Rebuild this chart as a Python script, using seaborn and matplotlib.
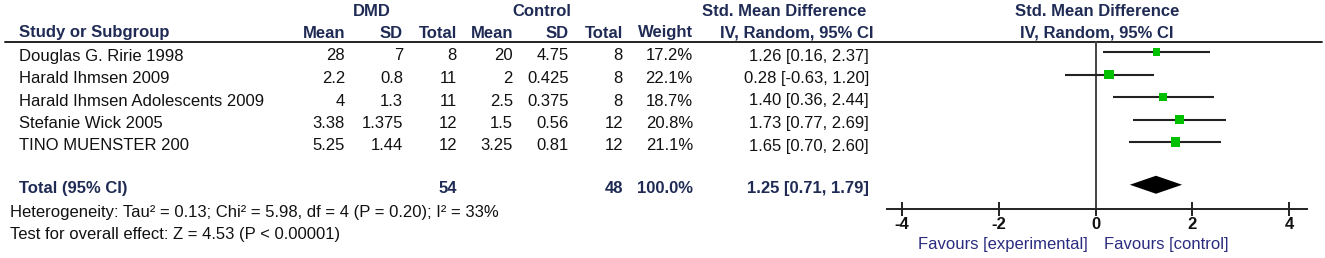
import numpy as np
import pandas as pd
import matplotlib
matplotlib.use('Agg')
import matplotlib.pyplot as plt
import seaborn as sns

# 데이터 (forest plot)
studies = ['Douglas G. Ririe 1998', 'Harald Ihmsen 2009',
           'Harald Ihmsen Adolescents 2009', 'Stefanie Wick 2005', 'TINO MUENSTER 200']
dmd_mean = ['28', '2.2', '4', '3.38', '5.25']
dmd_sd = ['7', '0.8', '1.3', '1.375', '1.44']
dmd_total = [8, 11, 11, 12, 12]
ctl_mean = ['20', '2', '2.5', '1.5', '3.25']
ctl_sd = ['4.75', '0.425', '0.375', '0.56', '0.81']
ctl_total = [8, 8, 8, 12, 12]
weight = [17.2, 22.1, 18.7, 20.8, 21.1]
smd = [1.26, 0.28, 1.40, 1.73, 1.65]
ci_low = [0.16, -0.63, 0.36, 0.77, 0.70]
ci_high = [2.37, 1.20, 2.44, 2.69, 2.60]

total_smd, total_low, total_high = 1.25, 0.71, 1.79
total_dmd, total_ctl, total_weight = 54, 48, 100.0
heterogeneity = 'Heterogeneity: Tau² = 0.13; Chi² = 5.98, df = 4 (P = 0.20); I² = 33%'
overall = 'Test for overall effect: Z = 4.53 (P < 0.00001)'
ticks = [-4, -2, 0, 2, 4]

sns.set_style('white')
plt.rcParams['font.family'] = ['Liberation Sans', 'DejaVu Sans']

W, H = 1325, 258
fig = plt.figure(figsize=(W / 100, H / 100), dpi=100)

# 표 영역 (픽셀 좌표)
tab = fig.add_axes([0, 0, 1, 1])
tab.set_xlim(0, W)
tab.set_ylim(H, 0)
tab.axis('off')

hdr = '#1f2b55'
fs = 12
row0, step, toff = 52, 22.5, 4
total_idx = 5.9

def ty(i):
    return row0 + i * step + toff

# 헤더
tab.text(372, 12, 'DMD', ha='center', va='center', fontsize=fs, fontweight='bold', color=hdr)
tab.text(542, 12, 'Control', ha='center', va='center', fontsize=fs, fontweight='bold', color=hdr)
tab.text(784, 12, 'Std. Mean Difference', ha='center', va='center', fontsize=fs, fontweight='bold', color=hdr)
tab.text(1097, 12, 'Std. Mean Difference', ha='center', va='center', fontsize=fs, fontweight='bold', color=hdr)
tab.text(1097, 33, 'IV, Random, 95% CI', ha='center', va='center', fontsize=fs, fontweight='bold', color=hdr)
tab.text(19, 33, 'Study or Subgroup', ha='left', va='center', fontsize=fs, fontweight='bold', color=hdr)

cols = [345, 403, 457, 513, 569, 623, 693, 869]
heads = ['Mean', 'SD', 'Total', 'Mean', 'SD', 'Total', 'Weight', 'IV, Random, 95% CI']
for x, lab in zip(cols, heads):
    tab.text(x + (4 if lab.startswith('IV') else 0), 33, lab, ha='right', va='center',
             fontsize=fs, fontweight='bold', color=hdr)
tab.plot([5, 1322], [42, 42], color='#222222', lw=1.4)

# 각 연구 행
for i, name in enumerate(studies):
    y = ty(i)
    tab.text(19, y, name, ha='left', va='center', fontsize=fs, color='#111111')
    vals = [dmd_mean[i], dmd_sd[i], str(dmd_total[i]), ctl_mean[i], ctl_sd[i],
            str(ctl_total[i]), f'{weight[i]:.1f}%',
            f'{smd[i]:.2f} [{ci_low[i]:.2f}, {ci_high[i]:.2f}]']
    for x, v in zip(cols, vals):
        tab.text(x, y, v, ha='right', va='center', fontsize=fs, color='#111111')

# 합계 행
yt = ty(total_idx)
tab.text(19, yt, 'Total (95% CI)', ha='left', va='center', fontsize=fs, fontweight='bold', color=hdr)
tot_vals = {cols[2]: str(total_dmd), cols[5]: str(total_ctl), cols[6]: f'{total_weight:.1f}%',
            cols[7]: f'{total_smd:.2f} [{total_low:.2f}, {total_high:.2f}]'}
for x, v in tot_vals.items():
    tab.text(x, yt, v, ha='right', va='center', fontsize=fs, fontweight='bold', color=hdr)
tab.text(10, 212, heterogeneity, ha='left', va='center', fontsize=fs, color='#111111')
tab.text(10, 234, overall, ha='left', va='center', fontsize=fs, color='#111111')

# forest plot 영역
x0px, x4px = 902, 1289
ppu = (x4px - x0px) / 8
left_px, right_px, top_px, bot_px = 887, 1307, 41, 209
ax = fig.add_axes([left_px / W, 1 - bot_px / H, (right_px - left_px) / W, (bot_px - top_px) / H])
ax.set_xlim(-4 - (x0px - left_px) / ppu, 4 + (right_px - x4px) / ppu)
ax.set_ylim((bot_px - row0) / step, (top_px - row0) / step)
ax.patch.set_alpha(0)

df = pd.DataFrame({'smd': smd, 'row': range(len(studies)), 'weight': weight})
ax.hlines(df['row'], ci_low, ci_high, color='#222222', lw=1.5, zorder=2)
sns.scatterplot(data=df, x='smd', y='row', size='weight', sizes=(32, 50), marker='s',
                color='#00c000', edgecolor='none', legend=False, ax=ax, zorder=3)
ax.axvline(0, color='#444444', lw=1.4, zorder=1)
dh = 0.4
ax.fill([total_low, total_smd, total_high, total_smd],
        [total_idx, total_idx - dh, total_idx, total_idx + dh], color='black', lw=0, zorder=3)

for s in ['top', 'right', 'left']:
    ax.spines[s].set_visible(False)
ax.spines['bottom'].set_color('#222222')
ax.spines['bottom'].set_linewidth(1.4)
ax.set_yticks([])
ax.set_xticks(ticks)
ax.set_xticklabels([str(t) for t in ticks], fontsize=fs, fontweight='bold', color='#111111')
ax.tick_params(axis='x', direction='inout', length=10, width=1.4, color='#222222', pad=1, bottom=True)
ax.set_xlabel('')
ax.set_ylabel('')

tab.text(1088, 245, 'Favours [experimental]', ha='right', va='center', fontsize=fs, color='#2b2b80')
tab.text(1104, 245, 'Favours [control]', ha='left', va='center', fontsize=fs, color='#2b2b80')

fig.savefig('out.png', dpi=100)
